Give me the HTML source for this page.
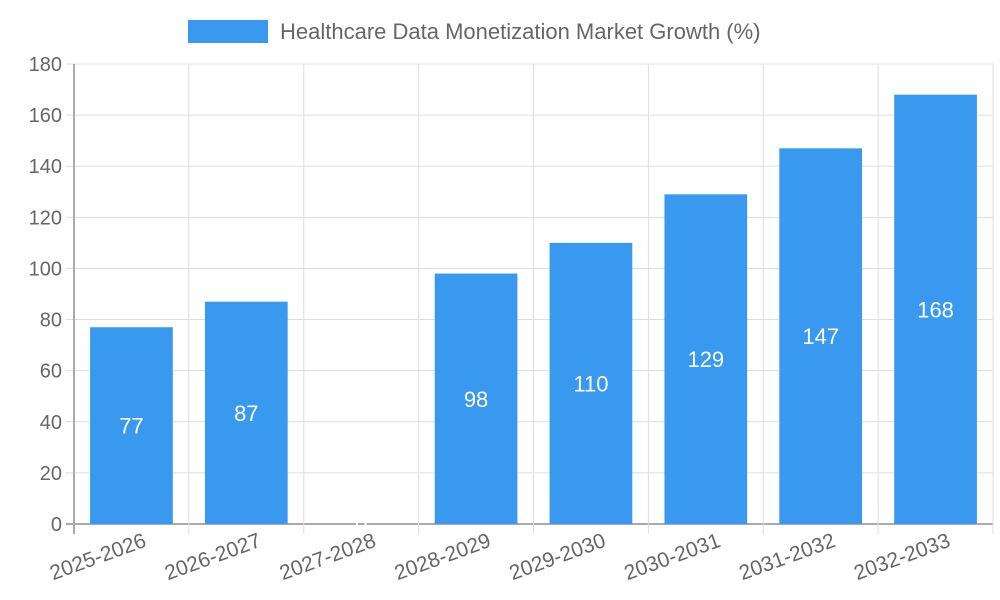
<!DOCTYPE html>
<html><head><meta charset="utf-8"><style>
body{margin:0;background:#fff;}
svg{display:block;font-family:"Liberation Sans",sans-serif;}
</style></head><body>
<svg width="1000" height="600">
<g>
<rect x="188" y="20" width="80" height="23" fill="#3899ee"/>
<text x="280" y="39" font-size="22" fill="#666">Healthcare Data Monetization Market Growth (%)</text>
</g>
<g id="grid"></g><g id="bars"></g><g id="labels"></g>
</svg>
<script>
const categories=["2025-2026","2026-2027","2027-2028","2028-2029","2029-2030","2030-2031","2031-2032","2032-2033"];
const values=[77,87,0,98,110,129,147,168];
const yTicks=[0,20,40,60,80,100,120,140,160,180];
const NS="http://www.w3.org/2000/svg";
const L=74,R=993,T=64,B=524,YMAX=180;
const cw=(R-L)/categories.length;
const y=v=>B-(v/YMAX)*(B-T);
const xc=i=>L+cw*(i+0.5);
function mk(tag,attrs,parent){const e=document.createElementNS(NS,tag);for(const k in attrs)e.setAttribute(k,attrs[k]);parent.appendChild(e);return e;}
const g=document.getElementById('grid'),bg=document.getElementById('bars'),lg=document.getElementById('labels');
yTicks.forEach(t=>{
 const ln=mk('line',{x1:L-8,x2:R,y1:y(t),y2:y(t),stroke:t===0?'#aaa':'#ddd','stroke-width':t===0?2:1},g);
 
 
 const tx=mk('text',{x:L-12,y:y(t)+7,'text-anchor':'end','font-size':20,fill:'#666'},g);
 tx.textContent=t;
 
 
});
for(let i=0;i<=categories.length;i++){
 const x=L+cw*i;
 const ln=mk('line',{x1:x,x2:x,y1:T,y2:B+10,stroke:i===0?'#aaa':'#ddd','stroke-width':i===0?2:1},g);
 
 
}
categories.forEach((c,i)=>{
 const bw=cw*0.72;
 const r=mk('rect',{x:xc(i)-bw/2,y:y(values[i]),width:bw,height:B-y(values[i]),fill:'#3899ee'},bg);
 
 
 const v=mk('text',{x:xc(i),y:(y(values[i])+B)/2+8,'text-anchor':'middle','font-size':22,fill:'#fff'},lg);
 v.textContent=values[i];
 
 
 const ax=xc(i)+16,ay=546;
 const t=mk('text',{x:ax,y:ay,'text-anchor':'end','font-size':21,fill:'#666',transform:`rotate(-20 ${ax} ${ay})`},lg);
 t.textContent=c;
 
 
});
</script>
</body></html>
